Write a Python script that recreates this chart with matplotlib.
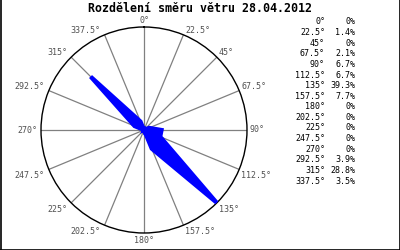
import numpy as np
import matplotlib
matplotlib.use("Agg")
import matplotlib.pyplot as plt
from matplotlib.lines import Line2D

title = "Rozdělení směru větru 28.04.2012"
directions = [0, 22.5, 45, 67.5, 90, 112.5, 135, 157.5,
              180, 202.5, 225, 247.5, 270, 292.5, 315, 337.5]
percent = [0, 1.4, 0, 2.1, 6.7, 6.7, 39.3, 7.7,
           0, 0, 0, 0, 0, 3.9, 28.8, 3.5]

W, H = 400, 250
fig = plt.figure(figsize=(W / 100, H / 100), dpi=100)
mono = "DejaVu Sans Mono"

cx, cy, R = 144, 130, 103
ax = fig.add_axes([(cx - R) / W, 1 - (cy + R) / H, 2 * R / W, 2 * R / H],
                  projection="polar")
ax.set_theta_zero_location("N")
ax.set_theta_direction(-1)
rmax = max(percent)
ax.set_ylim(0, rmax)
ax.grid(False)
ax.set_xticks([])
ax.set_yticks([])
ax.spines["polar"].set_color("black")
ax.spines["polar"].set_linewidth(1.0)
ax.set_facecolor("white")

theta = np.deg2rad(directions)
for t in theta:
    ax.plot([t, t], [0, rmax], color="#808080", lw=0.9, zorder=1)

tc = np.append(theta, theta[0])
rc = np.append(percent, percent[0])
ax.fill(tc, rc, facecolor="#0000ff", edgecolor="#0000ff", lw=3.0,
        joinstyle="miter", zorder=3)

px = 0.72  # points per pixel
for d, t in zip(directions, theta):
    s, c = np.sin(t), np.cos(t)
    if s > 0.1:
        ha, dx = "left", 2
    elif s < -0.1:
        ha, dx = "right", -4
    else:
        ha, dx = "center", 0
    if c > 0.1:
        va, dy = "bottom", 0
    elif c < -0.1:
        va, dy = "top", -2
    else:
        va, dy = "center", 0
    if abs(s) <= 0.1:
        dy = 2 if c > 0 else -3
    ax.annotate(f"{d:g}°", xy=(t, rmax), xytext=(dx * px, dy * px),
                textcoords="offset points", ha=ha, va=va,
                fontsize=6, family=mono, color="#505050",
                annotation_clip=False, zorder=5)

fig.text(200 / W, 1 - 9 / H, title, ha="center", va="center",
         fontsize=8.4, family=mono, fontweight="bold", color="black")

y0, step = 22, 10.6
for i, (d, p) in enumerate(zip(directions, percent)):
    y = 1 - (y0 + i * step) / H
    fig.text(325 / W, y, f"{d:g}°", ha="right", va="center",
             fontsize=6, family=mono, color="black")
    fig.text(355 / W, y, f"{p:g}%", ha="right", va="center",
             fontsize=6, family=mono, color="black")

for xs, ys in [([0.5 / W, 0.5 / W], [0, 1]),
               ([1 - 0.5 / W, 1 - 0.5 / W], [0, 1]),
               ([0, 1], [0.5 / H, 0.5 / H])]:
    fig.add_artist(Line2D(xs, ys, transform=fig.transFigure,
                          color="black", lw=1.2))

fig.savefig("out.png", dpi=100)
